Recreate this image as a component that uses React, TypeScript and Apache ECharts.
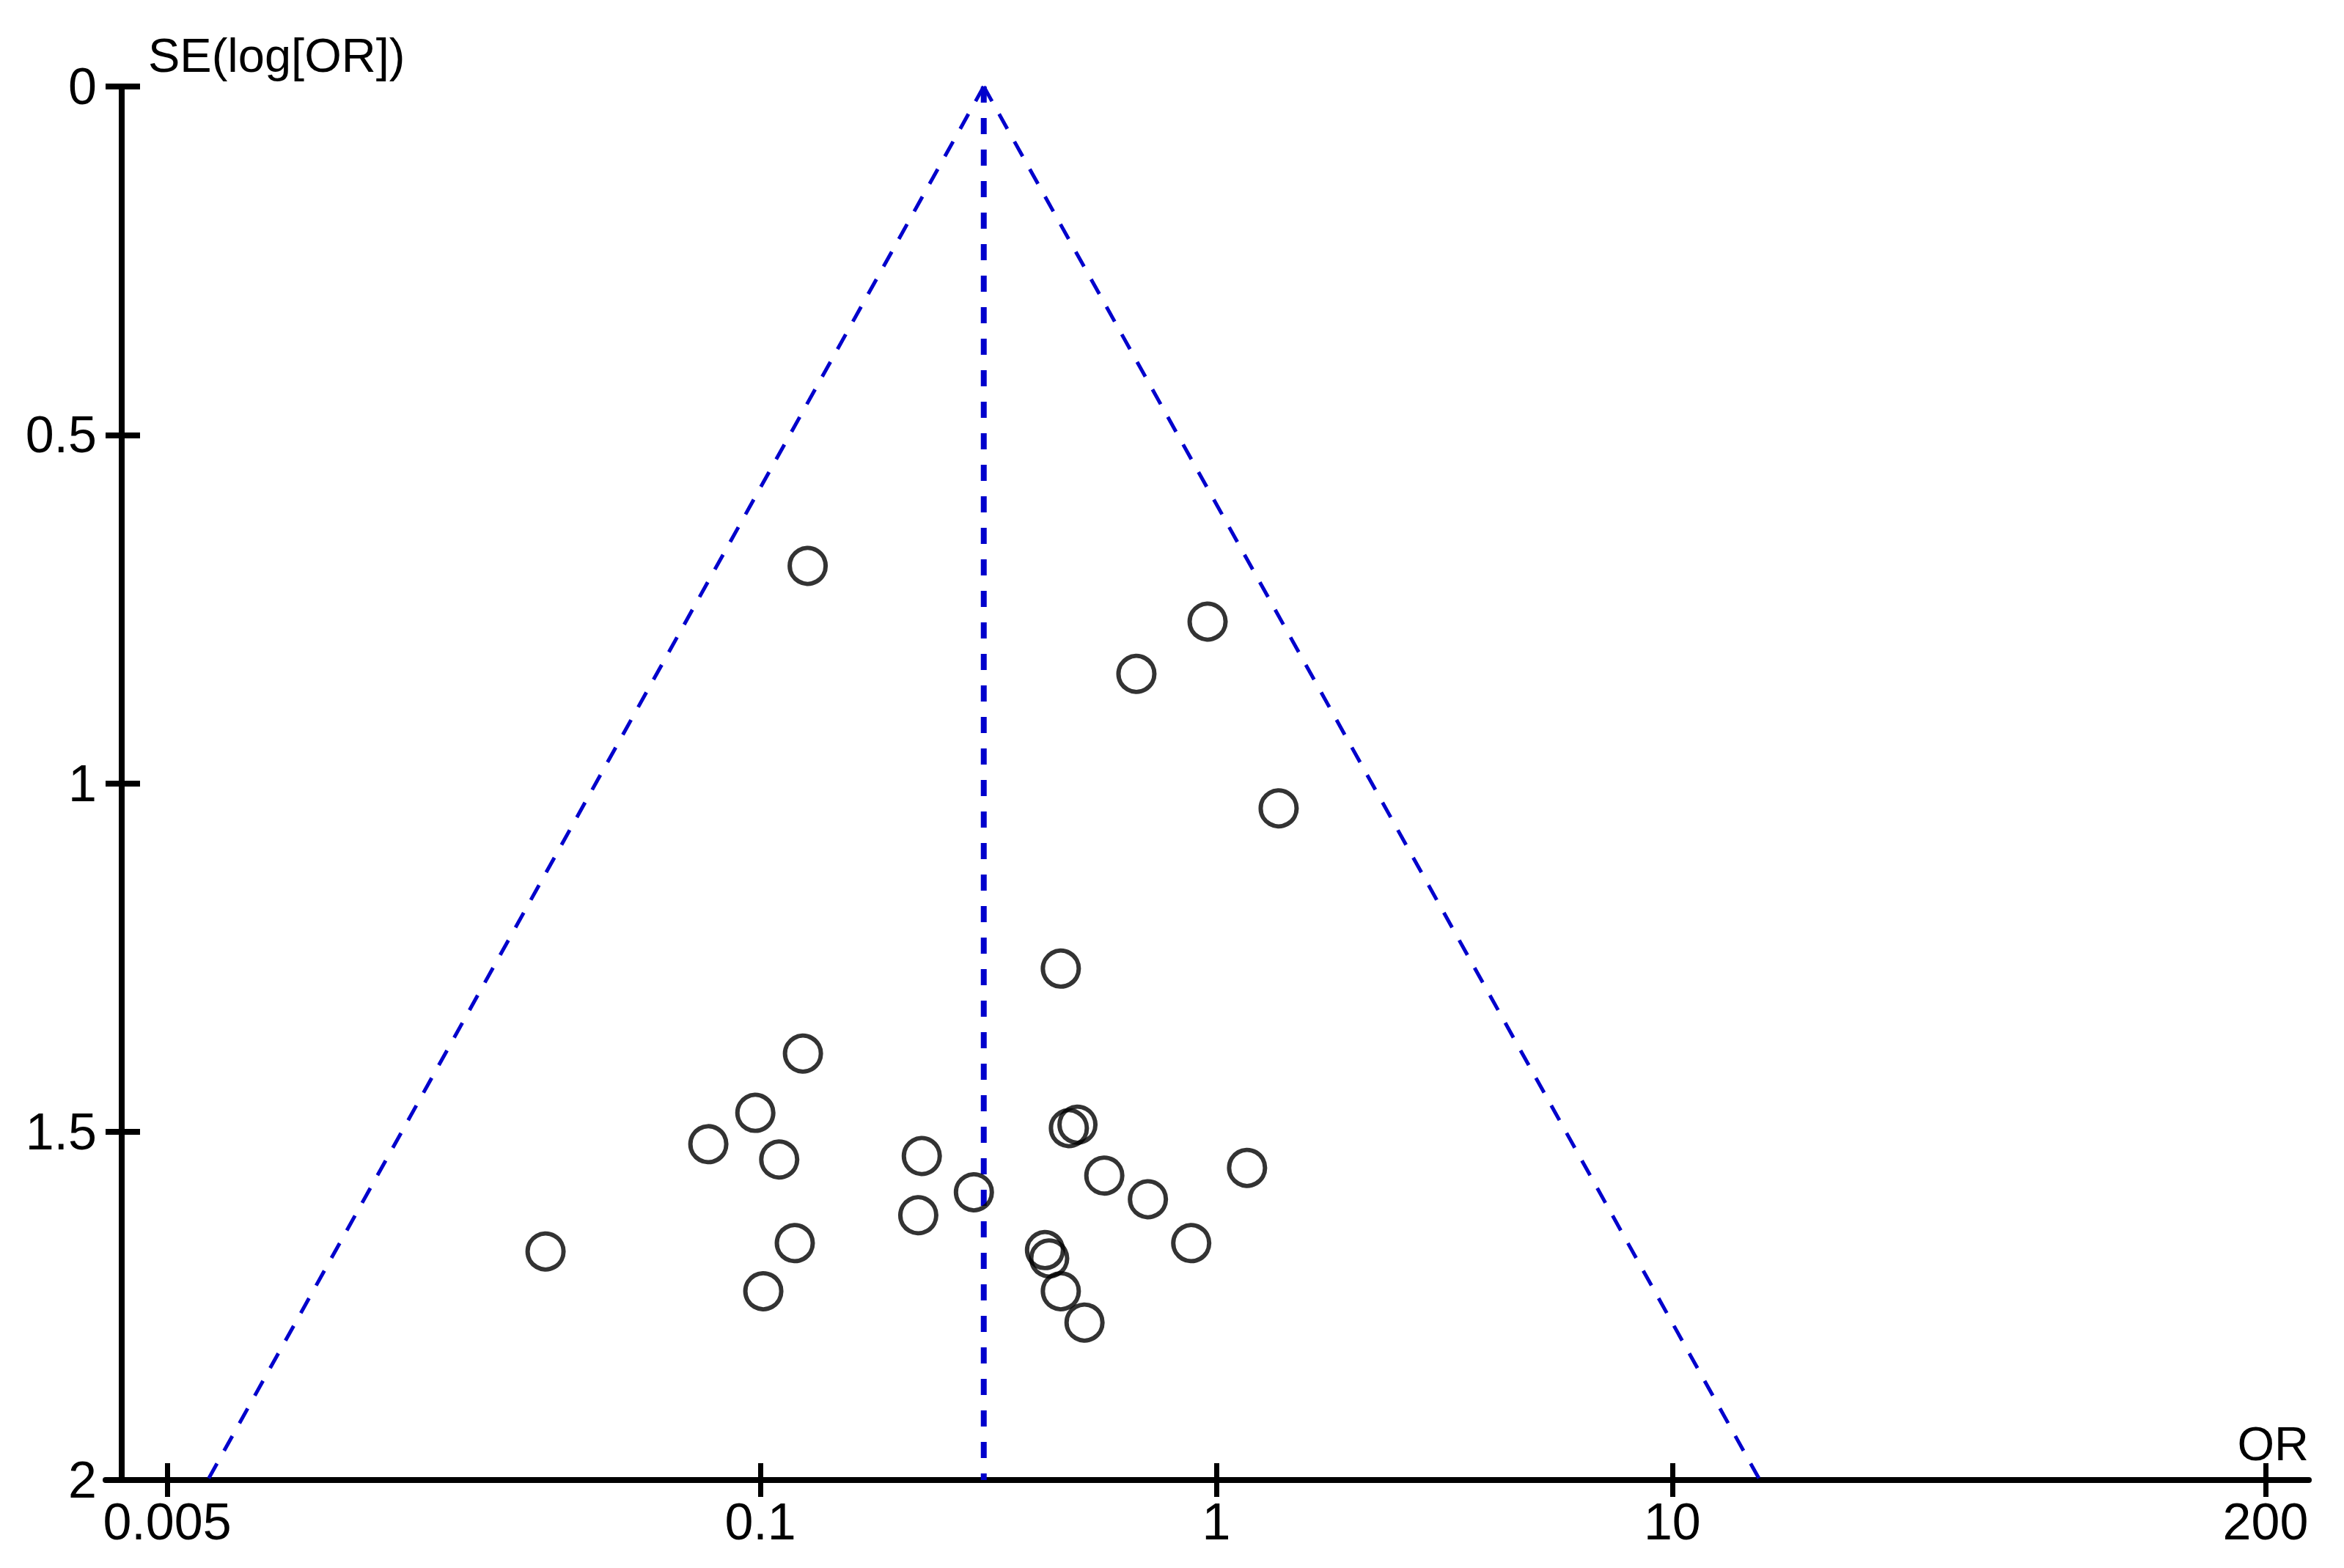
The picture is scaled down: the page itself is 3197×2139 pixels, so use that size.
import React, { useEffect, useRef } from "react";
import * as echarts from "echarts";

// Study estimates (odds ratio and standard error of log OR)
const studyOR = [
  0.294, 0.475, 0.496, 0.568, 0.708, 1.168, 0.881, 0.421, 0.43, 0.456, 0.514,
  0.124, 0.0975, 0.0769, 0.11, 0.226, 0.222, 0.0338, 0.119, 0.1015,
  0.127, 0.957, 0.668, 1.37, 0.456,
];
const studySE = [
  1.587, 1.495, 1.49, 1.563, 1.597, 1.552, 1.66, 1.67, 1.682, 1.729, 1.774,
  1.388, 1.473, 1.518, 1.54, 1.535, 1.62, 1.672, 1.66, 1.729,
  0.688, 0.768, 0.843, 1.036, 1.266,
];

// Pooled estimate and 95% funnel limits
const pooledOR = 0.309;
const funnelSE = [0, 2];
const funnelLowerOR = [0.309, 0.00614];
const funnelUpperOR = [0.309, 15.56];

// Axes
const xTickLabels = ["0.005", "0.1", "1", "10", "200"];
const xRangeOR = [0.003664, 248.9];
const yRange = [0, 2];
const yInterval = 0.5;

const lg = (v: number) => Math.log10(v);
const xTickVals = xTickLabels.map((s) => lg(parseFloat(s)));

const FONT = "Liberation Sans, Arial, sans-serif";
const FS = 70;
const FS_NAME = 65;
const BLUE = "#0000cc";

export default function App() {
  const ref = useRef<HTMLDivElement>(null);

  useEffect(() => {
    if (!ref.current) return;
    const chart = echarts.init(ref.current, undefined, { renderer: "svg" });

    const fmtX = (v: number) => {
      let best = 0;
      let bd = Infinity;
      xTickVals.forEach((t, i) => {
        const d = Math.abs(t - v);
        if (d < bd) {
          bd = d;
          best = i;
        }
      });
      return xTickLabels[best];
    };

    const xMin = lg(xRangeOR[0]);
    const xMax = lg(xRangeOR[1]);

    const baseX = {
      type: "value",
      min: xMin,
      max: xMax,
      position: "bottom",
      splitLine: { show: false },
    };
    const baseY = {
      type: "value",
      min: yRange[0],
      max: yRange[1],
      interval: yInterval,
      inverse: true,
      position: "left",
      offset: -22,
      splitLine: { show: false },
    };

    chart.setOption({
      animation: false,
      backgroundColor: "#ffffff",
      grid: {
        left: 144,
        right: 48,
        top: 118,
        bottom: 120,
        containLabel: false,
        outerBoundsMode: "none",
      },
      xAxis: [
        {
          ...baseX,
          name: "OR",
          nameLocation: "end",
          nameGap: 0,
          nameTextStyle: {
            fontFamily: FONT,
            fontSize: FS_NAME,
            color: "#000",
            align: "right",
            verticalAlign: "bottom",
            padding: [0, 0, 17, 0],
          },
          axisLine: { show: true, onZero: false, lineStyle: { color: "#000", width: 8 } },
          axisTick: {
            show: true,
            length: 23,
            customValues: xTickVals,
            lineStyle: { color: "#000", width: 7 },
          },
          axisLabel: {
            show: true,
            customValues: xTickVals,
            formatter: fmtX,
            margin: 22,
            fontFamily: FONT,
            fontSize: FS,
            color: "#000",
          },
        },
        {
          ...baseX,
          axisLine: { show: false, onZero: false },
          axisTick: {
            show: true,
            inside: true,
            length: 23,
            customValues: xTickVals,
            lineStyle: { color: "#000", width: 7 },
          },
          axisLabel: { show: false },
        },
      ],
      yAxis: [
        {
          ...baseY,
          name: "SE(log[OR])",
          nameLocation: "start",
          nameGap: 10,
          nameTextStyle: {
            fontFamily: FONT,
            fontSize: FS_NAME,
            color: "#000",
            align: "left",
            verticalAlign: "bottom",
            padding: [0, 0, 0, 36],
          },
          axisLine: { show: true, onZero: false, lineStyle: { color: "#000", width: 8 } },
          axisTick: { show: true, length: 22, lineStyle: { color: "#000", width: 8 } },
          axisLabel: {
            show: true,
            margin: 34,
            fontFamily: FONT,
            fontSize: FS,
            color: "#000",
          },
        },
        {
          ...baseY,
          axisLine: { show: false, onZero: false },
          axisTick: {
            show: true,
            inside: true,
            length: 25,
            lineStyle: { color: "#000", width: 8 },
          },
          axisLabel: { show: false },
        },
      ],
      series: [
        {
          type: "line",
          name: "pooled",
          data: funnelSE.map((s) => [lg(pooledOR), s]),
          symbol: "none",
          silent: true,
          lineStyle: { color: BLUE, width: 8, type: [22, 21] },
          z: 2,
        },
        {
          type: "line",
          name: "lower",
          data: funnelSE.map((s, i) => [lg(funnelLowerOR[i]), s]),
          symbol: "none",
          silent: true,
          lineStyle: { color: BLUE, width: 5, type: [23, 20] },
          z: 2,
        },
        {
          type: "line",
          name: "upper",
          data: funnelSE.map((s, i) => [lg(funnelUpperOR[i]), s]),
          symbol: "none",
          silent: true,
          lineStyle: { color: BLUE, width: 5, type: [23, 20] },
          z: 2,
        },
        {
          type: "scatter",
          name: "studies",
          data: studyOR.map((o, i) => [lg(o), studySE[i]]),
          symbol: "circle",
          symbolSize: 49,
          itemStyle: {
            color: "rgba(0,0,0,0)",
            borderColor: "#000",
            borderWidth: 6,
          },
          z: 3,
        },
      ],
    });

    return () => chart.dispose();
  }, []);

  return (
    <div
      ref={ref}
      style={{
        position: "fixed",
        left: 0,
        top: 0,
        width: 3197,
        height: 2139,
        background: "#fff",
      }}
    />
  );
}
